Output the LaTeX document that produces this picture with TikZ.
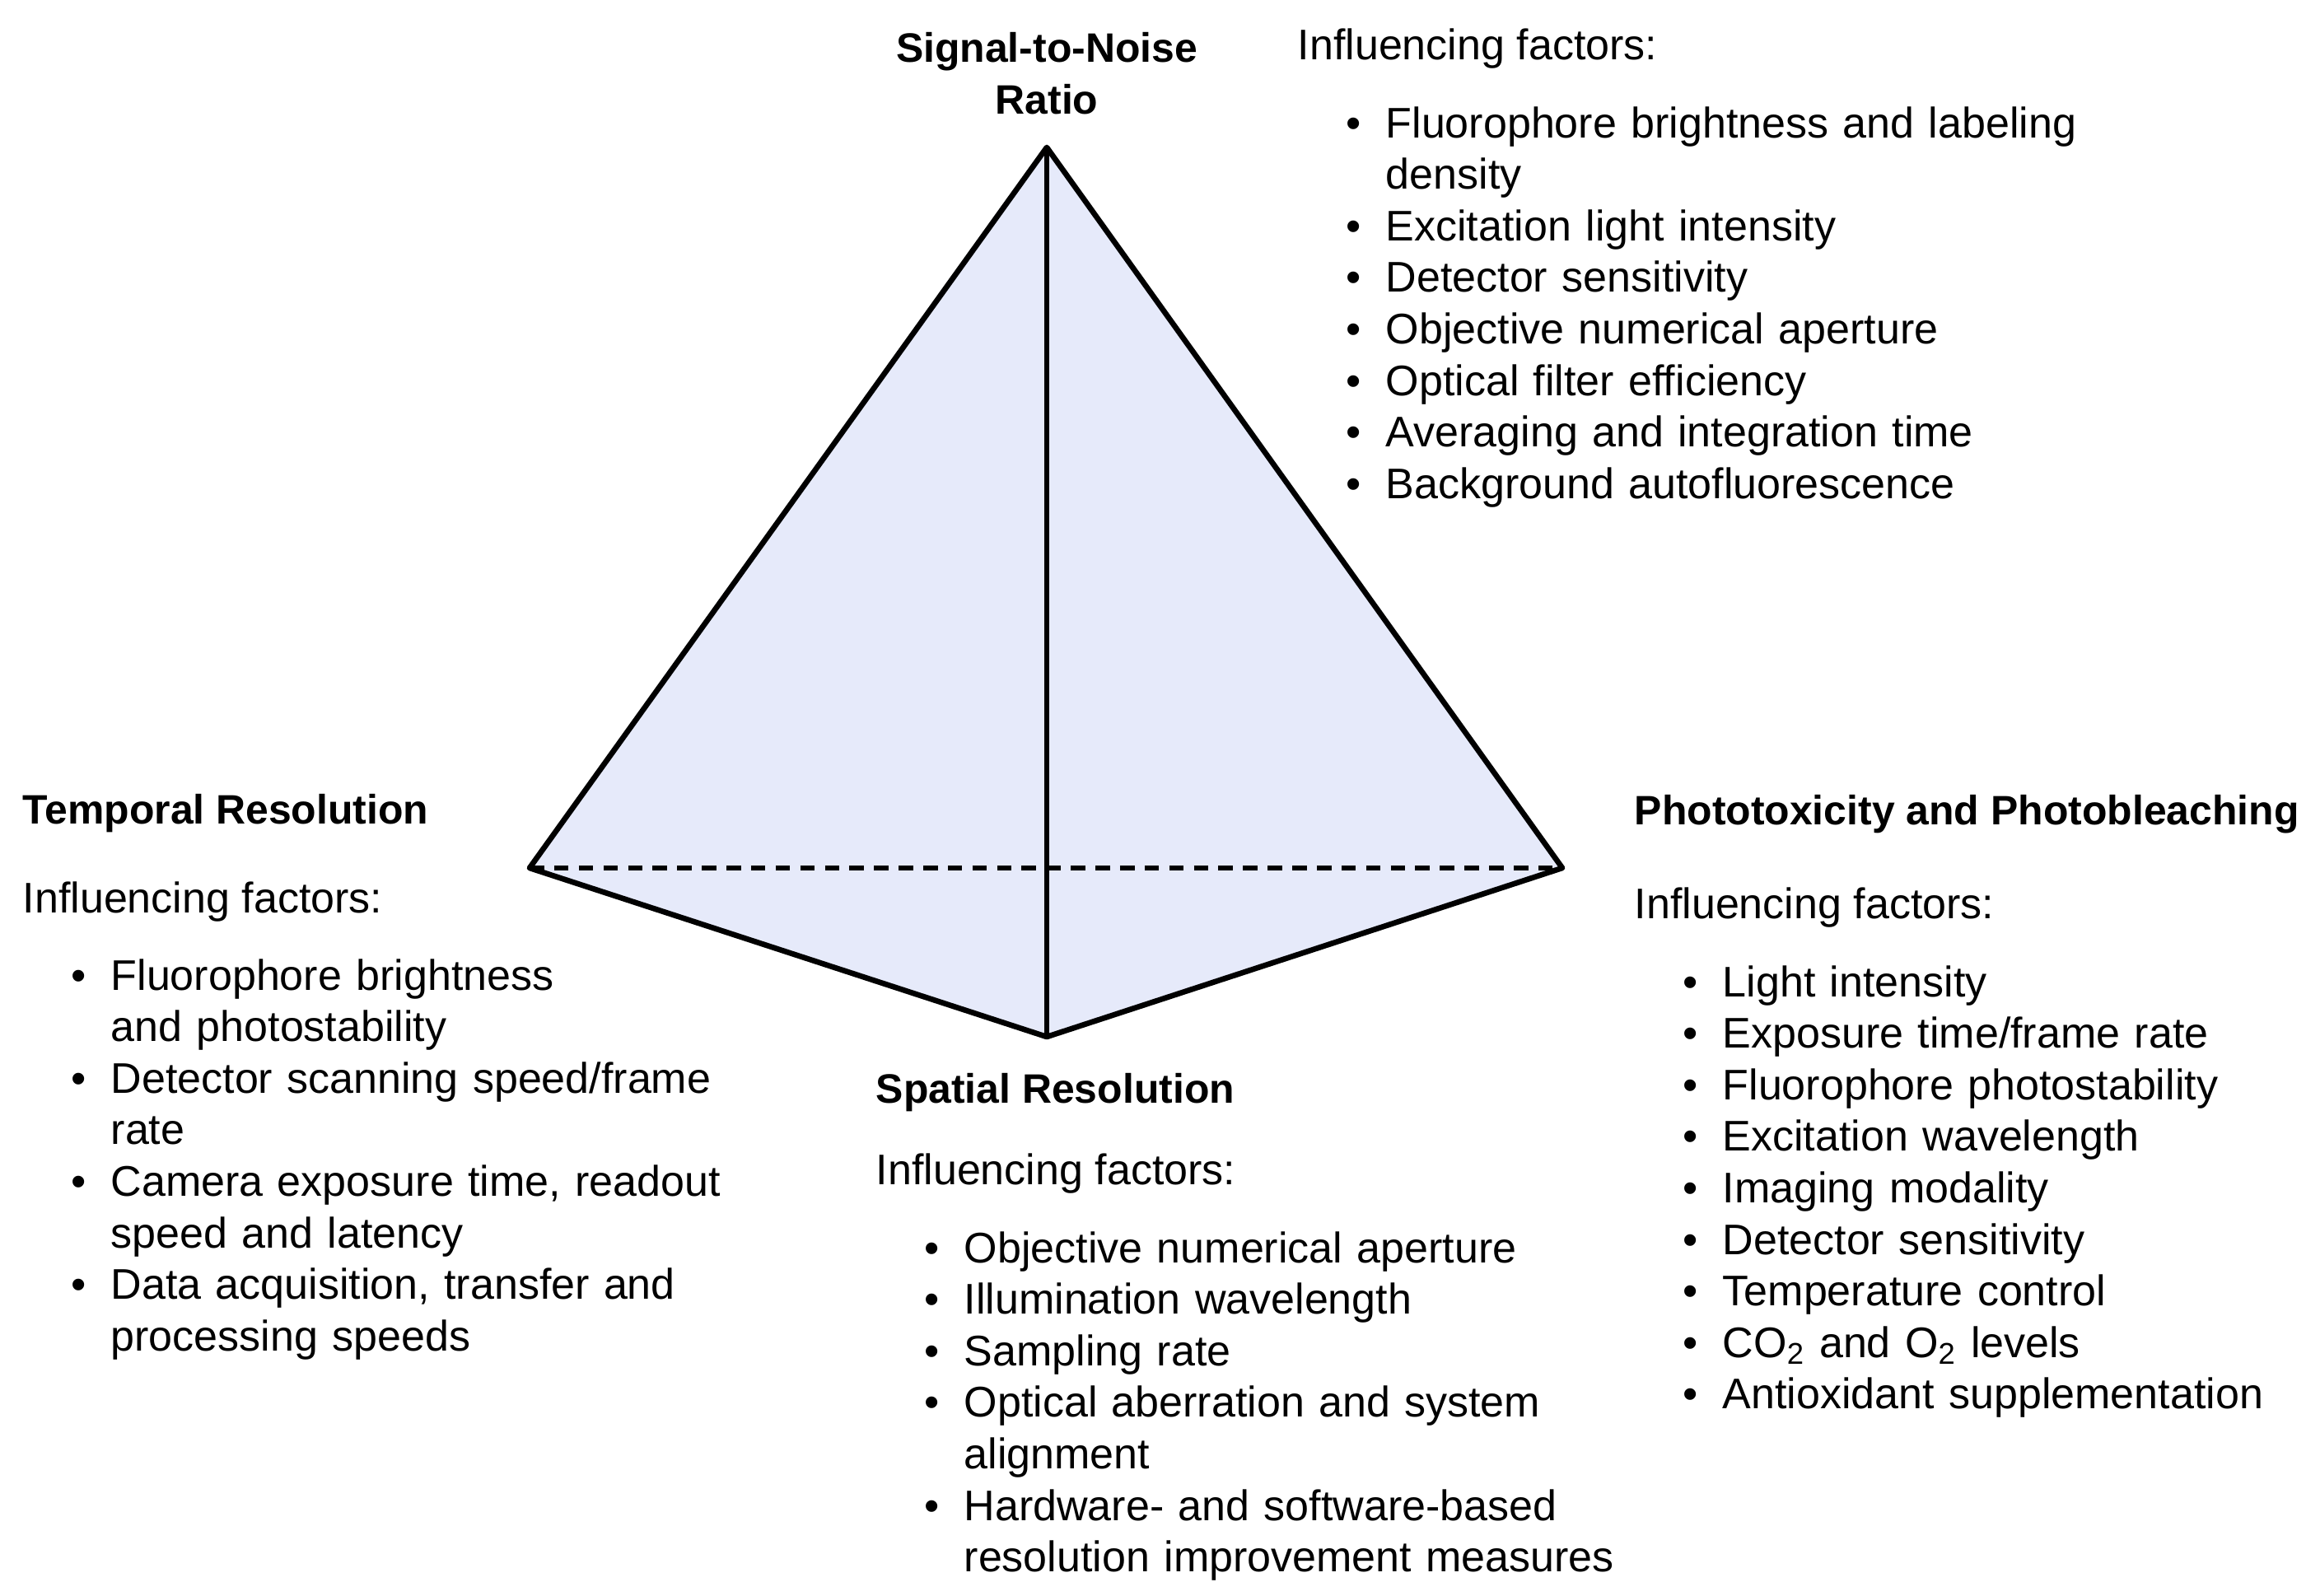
\documentclass[tikz,border=0pt]{standalone}
\usepackage{fontspec}
\setmainfont{Liberation Sans}
\usepackage{enumitem}
\usetikzlibrary{positioning}
\definecolor{FaceColor}{RGB}{230,234,250}
\setlist[itemize]{label=\textbullet, leftmargin=1.07cm, labelsep=0.3cm, itemsep=0pt, topsep=0pt, partopsep=0pt, parsep=0pt}
\tikzset{
  edge/.style = {line width=1.9pt, line join=round},
  title/.style = {font=\fontsize{14.2}{17.8}\selectfont\bfseries, inner sep=0pt},
  plain/.style = {font=\fontsize{14.8}{17.8}\selectfont, inner sep=0pt, anchor=west},
  factors/.style = {font=\fontsize{14.8}{17.8}\selectfont, inner sep=0pt, anchor=north west, text width=10cm}
}
\begin{document}
\begin{tikzpicture}
  \useasboundingbox (0,0) rectangle (28,19.38);
  % pyramid corners
  \coordinate (apex) at (12.71,17.59);
  \coordinate (left) at (6.43,8.84);
  \coordinate (right) at (18.97,8.84);
  \coordinate (base) at (12.71,6.79);

  \fill[FaceColor] (apex) -- (left) -- (base) -- (right) -- cycle;
  \draw[edge] (apex) -- (left) -- (base) -- (right) -- cycle;
  \draw[edge] (apex) -- (base);
  \draw[line width=1.9pt, dashed, dash pattern=on 5pt off 3.5pt] (left) -- (right);

  % signal-to-noise
  \node[title, align=center] (snr) at (12.71,18.49) {Signal-to-Noise\\Ratio};
  \node[plain] (snrinf) at (15.75,18.79) {Influencing factors:};
  \node[factors] (snrlist) at (15.75,18.34) {
    \begin{itemize}
      \item Fluorophore brightness and labeling\\density
      \item Excitation light intensity
      \item Detector sensitivity
      \item Objective numerical aperture
      \item Optical filter efficiency
      \item Averaging and integration time
      \item Background autofluorescence
    \end{itemize}};

  % temporal
  \node[title, anchor=west] (temp) at (0.27,9.50) {Temporal Resolution};
  \node[plain] (tempinf) at (0.27,8.43) {Influencing factors:};
  \node[factors] (templist) at (0.27,7.99) {
    \begin{itemize}
      \item Fluorophore brightness\\and photostability
      \item Detector scanning speed/frame\\rate
      \item Camera exposure time, readout\\speed and latency
      \item Data acquisition, transfer and\\processing speeds
    \end{itemize}};

  % spatial
  \node[title, anchor=west] (spat) at (10.63,6.11) {Spatial Resolution};
  \node[plain] (spatinf) at (10.63,5.13) {Influencing factors:};
  \node[factors] (spatlist) at (10.63,4.68) {
    \begin{itemize}
      \item Objective numerical aperture
      \item Illumination wavelength
      \item Sampling rate
      \item Optical aberration and system\\alignment
      \item Hardware- and software-based\\resolution improvement measures
    \end{itemize}};

  % phototoxicity
  \node[title, anchor=west] (photo) at (19.84,9.49) {Phototoxicity and Photobleaching};
  \node[plain] (photoinf) at (19.84,8.36) {Influencing factors:};
  \node[factors] (photolist) at (19.84,7.91) {
    \begin{itemize}
      \item Light intensity
      \item Exposure time/frame rate
      \item Fluorophore photostability
      \item Excitation wavelength
      \item Imaging modality
      \item Detector sensitivity
      \item Temperature control
      \item CO\textsubscript{2} and O\textsubscript{2} levels
      \item Antioxidant supplementation
    \end{itemize}};
\end{tikzpicture}
\end{document}
